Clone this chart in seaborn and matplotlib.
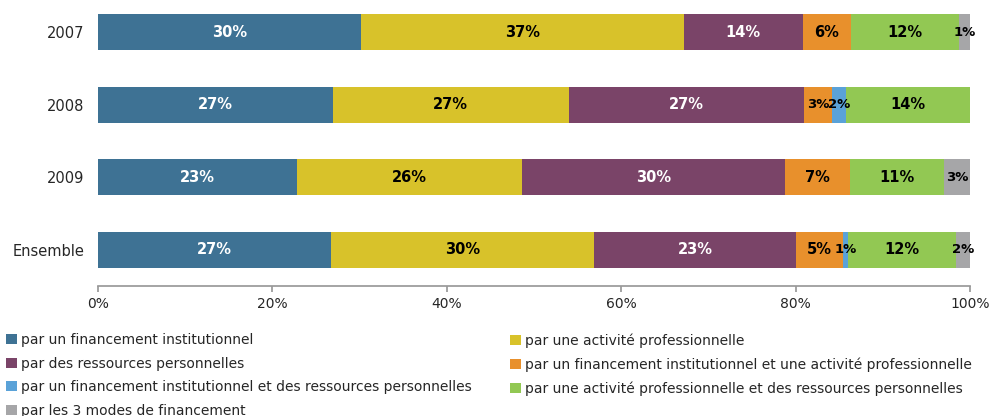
import matplotlib
matplotlib.use("Agg")
import matplotlib.pyplot as plt
import seaborn as sns
import numpy as np
import pandas as pd
from matplotlib.patches import Patch

categories = ["2007", "2008", "2009", "Ensemble"]
series_names = [
    "par un financement institutionnel",
    "par une activité professionnelle",
    "par des ressources personnelles",
    "par un financement institutionnel et une activité professionnelle",
    "par un financement institutionnel et des ressources personnelles",
    "par une activité professionnelle et des ressources personnelles",
    "par les 3 modes de financement",
]
inst = [30.2, 26.9, 22.8, 26.7]
pro = [37.0, 27.1, 25.8, 30.2]
perso = [13.6, 27.0, 30.2, 23.1]
inst_pro = [5.6, 3.2, 7.4, 5.4]
inst_perso = [0.0, 1.6, 0.0, 0.6]
pro_perso = [12.3, 14.2, 10.8, 12.4]
trois = [1.4, 0.0, 3.0, 1.6]
values = [inst, pro, perso, inst_pro, inst_perso, pro_perso, trois]
colors = ["#3E7294", "#D8C22A", "#7A4468", "#E8902C", "#5AA2D8", "#92C853", "#A6A6A8"]
label_colors = ["white", "black", "white", "black", "black", "black", "black"]
xticks = [0, 20, 40, 60, 80, 100]
xtick_labels = ["0%", "20%", "40%", "60%", "80%", "100%"]

sns.set_theme(style="white")
plt.rcParams["font.family"] = ["DejaVu Sans"]

fig = plt.figure(figsize=(9.92, 4.16), dpi=100)
ax = fig.add_axes([98 / 992, 1 - 286 / 416, 872 / 992, 286 / 416])

arr = np.array(values)
cum = np.cumsum(arr, axis=0)
# draw cumulative bars from the last series to the first (stacking)
for i in range(len(values) - 1, -1, -1):
    df = pd.DataFrame({"cat": categories, "val": cum[i]})
    sns.barplot(data=df, x="val", y="cat", order=categories, orient="h",
                color=colors[i], saturation=1, width=0.5, ax=ax, linewidth=0)

starts = cum - arr
for i in range(len(values)):
    for j, c in enumerate(categories):
        v = arr[i][j]
        if v <= 0:
            continue
        ax.text(starts[i][j] + v / 2, j, f"{int(round(v))}%", ha="center", va="center",
                fontsize=10.5 if v >= 4 else 9.5, fontweight="bold", color=label_colors[i])

ax.set_xlim(0, 100)
ax.set_ylim(3.5, -0.5 + 4 / 72)
ax.set_xticks(xticks)
ax.set_xticklabels(xtick_labels, fontsize=10)
ax.set_xlabel("")
ax.set_ylabel("")
ax.tick_params(axis="y", labelsize=10.5, length=0, pad=10)
ax.tick_params(axis="x", length=4, color="#999999", direction="out", bottom=True, pad=4)
for s in ["top", "right", "left"]:
    ax.spines[s].set_visible(False)
ax.spines["bottom"].set_color("#999999")

leg_kw = dict(loc="upper left", frameon=False, fontsize=10, handlelength=0.75,
              handleheight=0.75, handletextpad=0.35, labelspacing=0.68,
              borderaxespad=0.0, borderpad=0.3)
left_idx = [0, 2, 4, 6]
right_idx = [1, 3, 5]
leg1 = fig.legend([Patch(facecolor=colors[k], edgecolor="none") for k in left_idx],
                  [series_names[k] for k in left_idx],
                  bbox_to_anchor=(2 / 992, 1 - 329 / 416), **leg_kw)
leg2 = fig.legend([Patch(facecolor=colors[k], edgecolor="none") for k in right_idx],
                  [series_names[k] for k in right_idx],
                  bbox_to_anchor=(506 / 992, 1 - 329 / 416), **leg_kw)

fig.savefig("out.png", dpi=100)
